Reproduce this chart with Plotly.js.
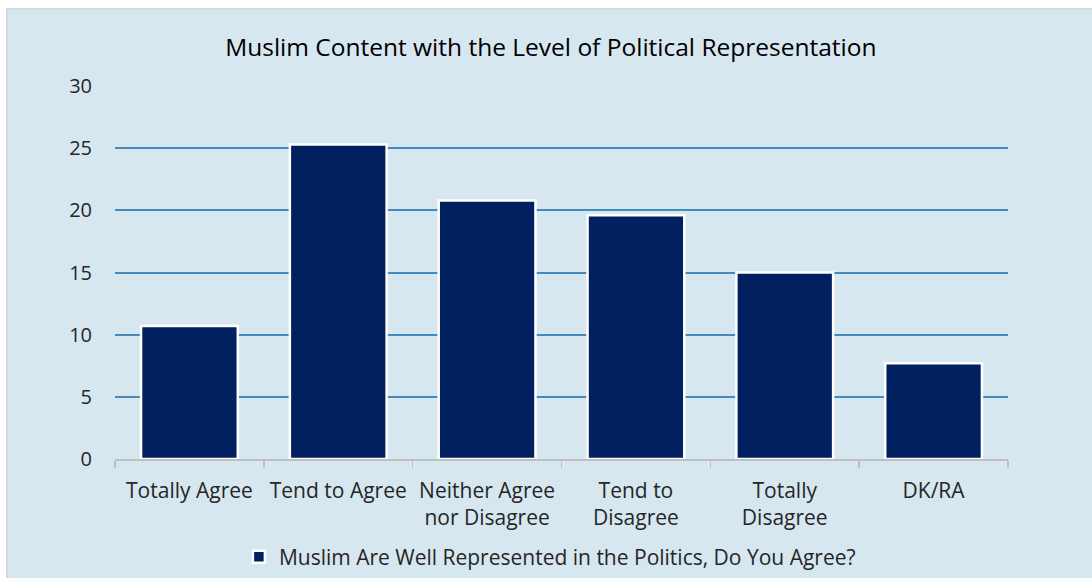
<!DOCTYPE html>
<html>
<head>
<meta charset="utf-8">
<script src="https://cdn.plot.ly/plotly-3.0.1.min.js"></script>
<style>
  html, body { margin:0; padding:0; background:#ffffff; overflow:hidden; width:1092px; height:578px; }
  #frame { position:absolute; left:6px; top:8px; width:1100px; height:590px; border:2px solid #d9d9d9; background:#d7e7f0; }
  #chart { position:absolute; left:0px; top:0px; width:1100px; height:580px; }
</style>
</head>
<body>
<div id="frame"><div id="chart"></div></div>
<script>
const categories = ["Totally Agree", "Tend to Agree", "Neither Agree<br>nor Disagree", "Tend to<br>Disagree", "Totally<br>Disagree", "DK/RA"];
const values = [10.7, 25.3, 20.8, 19.6, 15.0, 7.7];
const seriesName = "Muslim Are Well Represented in the Politics, Do You Agree?";
const yTicks = [0, 5, 10, 15, 20, 25, 30];

const trace = {
  type: "bar",
  x: categories,
  y: values,
  name: seriesName,
  showlegend: true,
  marker: { color: "#00205f", line: { color: "#ffffff", width: 2.5 } },
  hoverinfo: "x+y"
};

const layout = {
  width: 1100,
  height: 580,
  paper_bgcolor: "rgba(0,0,0,0)",
  plot_bgcolor: "rgba(0,0,0,0)",
  margin: { l: 107, r: 100, t: 76, b: 131 },
  bargap: 0.35,
  font: { family: "Open Sans, sans-serif", color: "#262626", size: 20 },
  title: {
    text: "Muslim Content with the Level of Political Representation",
    font: { family: "Open Sans, sans-serif", size: 24.5, color: "#000000" },
    x: 0.4935, xref: "container", xanchor: "center",
    y: 0.936, yref: "container", yanchor: "middle"
  },
  xaxis: {
    type: "category",
    showline: true, linecolor: "#bfbfbf", linewidth: 1.5,
    ticks: "outside", tickson: "boundaries", ticklen: 7, tickcolor: "#bfbfbf", tickwidth: 1.5,
    showgrid: false, zeroline: false,
    ticklabelstandoff: 12,
    tickfont: { family: "Open Sans, sans-serif", size: 21, color: "#262626" }
  },
  yaxis: {
    range: [0, 30],
    tickvals: yTicks,
    ticktext: yTicks.map(String),
    showgrid: true, gridcolor: "#4589bd", gridwidth: 2,
    zeroline: false, showline: false, ticks: "",
    ticklabelstandoff: 22,
    tickfont: { family: "Open Sans, sans-serif", size: 20, color: "#262626" }
  },
  showlegend: true,
  legend: {
    orientation: "h",
    x: 0.487, xanchor: "center",
    y: -0.263, yanchor: "middle",
    bgcolor: "rgba(0,0,0,0)",
    font: { family: "Open Sans, sans-serif", size: 21, color: "#262626" },
    itemwidth: 30
  }
};

Plotly.newPlot("chart", [trace], layout, { displayModeBar: false, staticPlot: true });
</script>
</body>
</html>
